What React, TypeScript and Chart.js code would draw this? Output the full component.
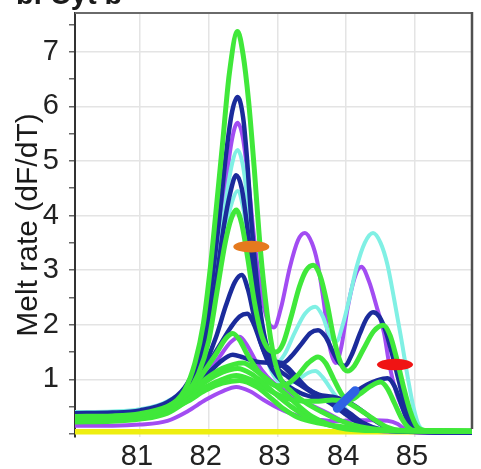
import { useEffect, useRef } from 'react';
import { Chart, registerables } from 'chart.js';

Chart.register(...registerables);

type Pt = [number, number];

// Axis ranges (temperature in °C, melt rate in dF/dT)
const TEMP_MIN = 80.055;
const TEMP_MAX = 85.83;
const RATE_MIN = -0.057;
const RATE_MAX = 7.71;

const PANEL_TITLE = 'b. Cyt b';
const Y_TITLE = 'Melt rate (dF/dT)';

const GREEN = '#40e83a';
const NAVY = '#1b2b9b';
const PURPLE = '#a24cf2';
const CYAN = '#80f0e4';
const YELLOW = '#eeee10';
const BLUE = '#2f62e4';

// No-template control
const NTC: Pt[] = [[80.055, 0.04], [85.83, 0.04]];

// Purple samples
const P_LOW: Pt[] = [[80.055,0.15],[80.6,0.15],[81.0,0.17],[81.4,0.24],[81.7,0.42],[81.95,0.62],[82.2,0.78],[82.4,0.86],[82.6,0.78],[82.8,0.62],[83.0,0.48],[83.2,0.37],[83.4,0.3],[83.6,0.26],[83.85,0.23],[84.1,0.25],[84.4,0.25],[84.6,0.24],[84.75,0.18],[84.87,0.07],[85.0,0.03],[85.83,0.02]];
const P_MID: Pt[] = [[80.055,0.25],[80.6,0.26],[81.0,0.29],[81.4,0.4],[81.7,0.7],[81.95,1.05],[82.15,1.4],[82.32,1.68],[82.45,1.78],[82.57,1.6],[82.7,1.3],[82.85,1.05],[83.0,0.88],[83.2,0.72],[83.45,0.55],[83.7,0.4],[84.0,0.2],[84.3,0.08],[84.7,0.04],[85.83,0.03]];
const P_HIGH: Pt[] = [[80.055,0.3],[80.6,0.31],[81.0,0.35],[81.4,0.5],[81.7,0.85],[81.85,1.25],[82.0,2.0],[82.12,3.2],[82.24,4.5],[82.34,5.4],[82.42,5.7],[82.5,5.4],[82.58,4.6],[82.66,3.6],[82.75,2.7],[82.85,2.1],[82.95,1.95],[83.05,2.3],[83.18,3.05],[83.3,3.55],[83.4,3.68],[83.5,3.5],[83.58,3.15],[83.67,2.45],[83.76,1.6],[83.85,1.3],[83.93,1.6],[84.02,2.3],[84.12,2.85],[84.22,3.06],[84.33,2.8],[84.45,2.3],[84.55,1.85],[84.63,1.25],[84.73,0.75],[84.83,0.43],[84.92,0.15],[85.0,0.05],[85.2,0.03],[85.83,0.02]];

// Cyan samples
const C_MID: Pt[] = [[80.055,0.36],[80.6,0.37],[81.0,0.41],[81.4,0.55],[81.7,0.85],[81.85,1.2],[82.0,1.85],[82.12,2.7],[82.24,3.7],[82.34,4.25],[82.42,4.45],[82.5,4.15],[82.58,3.5],[82.67,2.6],[82.76,1.85],[82.88,1.25],[83.0,0.98],[83.15,0.92],[83.3,1.0],[83.45,1.12],[83.55,1.15],[83.65,1.05],[83.8,0.78],[83.95,0.52],[84.1,0.32],[84.3,0.16],[84.6,0.07],[85.83,0.04]];
const C_HIGH: Pt[] = [[80.055,0.4],[80.6,0.41],[81.0,0.45],[81.4,0.6],[81.7,0.9],[81.85,1.3],[82.0,2.0],[82.12,3.0],[82.24,4.2],[82.34,4.95],[82.42,5.2],[82.5,4.9],[82.58,4.1],[82.66,3.1],[82.75,2.2],[82.86,1.55],[82.98,1.3],[83.1,1.45],[83.25,1.85],[83.4,2.2],[83.55,2.33],[83.66,2.15],[83.76,1.8],[83.86,1.7],[83.95,2.0],[84.05,2.5],[84.15,3.05],[84.27,3.5],[84.39,3.68],[84.5,3.5],[84.6,3.1],[84.7,2.45],[84.8,1.75],[84.9,1.0],[84.98,0.48],[85.06,0.15],[85.2,0.05],[85.83,0.03]];

// Navy samples
const N_A: Pt[] = [[80.055,0.34],[80.6,0.35],[81.0,0.39],[81.4,0.5],[81.7,0.75],[81.95,1.05],[82.15,1.3],[82.35,1.45],[82.5,1.4],[82.7,1.32],[82.9,1.3],[83.05,1.26],[83.2,1.1],[83.4,0.86],[83.6,0.72],[83.8,0.68],[84.0,0.6],[84.2,0.45],[84.4,0.26],[84.6,0.11],[84.8,0.05],[85.83,0.03]];
const N_B: Pt[] = [[80.055,0.36],[80.6,0.37],[81.0,0.41],[81.4,0.55],[81.7,0.82],[81.95,1.2],[82.15,1.6],[82.32,1.95],[82.45,2.15],[82.56,2.2],[82.66,2.0],[82.76,1.65],[82.87,1.3],[83.0,1.05],[83.15,0.88],[83.35,0.74],[83.55,0.66],[83.75,0.6],[83.9,0.58],[84.02,0.64],[84.15,0.78],[84.3,0.9],[84.45,0.98],[84.6,1.02],[84.7,0.88],[84.8,0.55],[84.9,0.22],[85.0,0.07],[85.3,0.04],[85.83,0.03]];
const N_C: Pt[] = [[80.055,0.33],[80.6,0.34],[81.0,0.38],[81.4,0.52],[81.7,0.8],[81.9,1.15],[82.1,1.75],[82.25,2.35],[82.38,2.78],[82.48,2.91],[82.57,2.65],[82.66,2.15],[82.75,1.7],[82.85,1.4],[82.97,1.25],[83.1,1.25],[83.25,1.08],[83.45,0.82],[83.65,0.68],[83.85,0.55],[84.05,0.38],[84.25,0.2],[84.5,0.08],[84.9,0.04],[85.83,0.03]];
const N_D: Pt[] = [[80.055,0.35],[80.6,0.36],[81.0,0.4],[81.4,0.55],[81.7,0.85],[81.85,1.2],[82.0,1.9],[82.12,2.9],[82.22,3.8],[82.32,4.45],[82.4,4.74],[82.48,4.5],[82.56,3.8],[82.65,2.9],[82.74,2.1],[82.84,1.6],[82.95,1.35],[83.08,1.3],[83.2,1.42],[83.35,1.65],[83.48,1.85],[83.59,1.9],[83.7,1.78],[83.8,1.52],[83.9,1.3],[83.98,1.25],[84.08,1.45],[84.2,1.84],[84.3,2.12],[84.39,2.23],[84.48,2.15],[84.57,1.9],[84.66,1.5],[84.76,1.0],[84.86,0.5],[84.95,0.2],[85.05,0.06],[85.3,0.03],[85.83,0.03]];
const N_E: Pt[] = [[80.055,0.38],[80.6,0.39],[81.0,0.43],[81.4,0.58],[81.65,0.85],[81.8,1.2],[81.95,1.8],[82.05,2.8],[82.15,3.9],[82.25,5.1],[82.34,5.9],[82.42,6.17],[82.5,5.8],[82.56,5.0],[82.62,3.9],[82.7,2.8],[82.78,2.0],[82.88,1.45],[83.0,1.2],[83.15,1.05],[83.35,0.88],[83.55,0.72],[83.75,0.58],[83.95,0.4],[84.15,0.22],[84.4,0.1],[84.8,0.05],[85.83,0.03]];

// Green samples
const G_A: Pt[] = [[80.055,0.28],[80.6,0.29],[81.0,0.32],[81.4,0.43],[81.7,0.6],[81.95,0.8],[82.2,0.93],[82.45,0.98],[82.7,0.86],[82.9,0.66],[83.1,0.45],[83.3,0.3],[83.6,0.2],[84.0,0.12],[84.5,0.06],[85.83,0.05]];
const G_B: Pt[] = [[80.055,0.22],[80.6,0.23],[81.0,0.27],[81.4,0.38],[81.7,0.62],[81.95,0.85],[82.2,1.0],[82.4,1.07],[82.6,1.0],[82.8,0.86],[83.0,0.72],[83.2,0.63],[83.4,0.6],[83.6,0.6],[83.8,0.62],[84.0,0.58],[84.2,0.44],[84.4,0.27],[84.6,0.12],[84.8,0.06],[85.83,0.05]];
const G_C: Pt[] = [[80.055,0.26],[80.6,0.27],[81.0,0.3],[81.4,0.44],[81.7,0.68],[81.95,0.95],[82.2,1.13],[82.42,1.2],[82.62,1.1],[82.82,0.9],[83.0,0.7],[83.2,0.5],[83.45,0.3],[83.7,0.18],[84.1,0.09],[84.6,0.06],[85.83,0.05]];
const G_D: Pt[] = [[80.055,0.32],[80.6,0.33],[81.0,0.37],[81.4,0.5],[81.7,0.74],[81.95,1.0],[82.2,1.2],[82.5,1.3],[82.7,1.15],[82.9,0.95],[83.1,0.75],[83.3,0.52],[83.5,0.32],[83.75,0.17],[84.0,0.09],[84.5,0.06],[85.83,0.05]];
const G_E: Pt[] = [[80.055,0.24],[80.6,0.25],[81.0,0.29],[81.4,0.42],[81.7,0.75],[81.9,1.08],[82.1,1.45],[82.25,1.75],[82.35,1.84],[82.45,1.72],[82.55,1.48],[82.7,1.18],[82.85,0.97],[83.0,0.88],[83.15,0.92],[83.3,1.08],[83.45,1.3],[83.59,1.41],[83.7,1.3],[83.82,1.0],[83.95,0.7],[84.05,0.62],[84.2,0.73],[84.35,0.87],[84.5,0.95],[84.6,0.83],[84.7,0.57],[84.8,0.3],[84.9,0.12],[85.0,0.06],[85.83,0.05]];
const G_F: Pt[] = [[80.055,0.27],[80.6,0.28],[81.0,0.32],[81.4,0.46],[81.7,0.78],[81.85,1.1],[82.0,1.7],[82.12,2.6],[82.24,3.5],[82.33,3.95],[82.4,4.1],[82.48,3.85],[82.57,3.2],[82.66,2.45],[82.76,1.85],[82.87,1.55],[82.98,1.5],[83.08,1.65],[83.2,2.15],[83.32,2.7],[83.42,3.0],[83.52,3.09],[83.62,2.9],[83.72,2.4],[83.82,1.75],[83.92,1.3],[84.02,1.15],[84.12,1.25],[84.25,1.55],[84.4,1.88],[84.54,1.99],[84.64,1.8],[84.73,1.4],[84.83,0.88],[84.93,0.42],[85.03,0.13],[85.15,0.06],[85.83,0.05]];
const G_G: Pt[] = [[80.055,0.3],[80.6,0.31],[81.0,0.35],[81.4,0.5],[81.65,0.8],[81.8,1.3],[81.92,2.0],[82.02,3.0],[82.1,4.0],[82.2,5.3],[82.3,6.6],[82.42,7.37],[82.5,6.95],[82.58,6.1],[82.66,4.9],[82.75,3.4],[82.85,2.2],[82.95,1.4],[83.05,1.0],[83.2,0.78],[83.4,0.58],[83.65,0.4],[83.9,0.25],[84.2,0.13],[84.6,0.07],[85.0,0.06],[85.83,0.05]];

// Short highlighted segment near 84 °C
const BLUE_SEGMENT: Pt[] = [[83.87, 0.47], [84.13, 0.79]];

// Peak markers
const MARK_TEMP = [82.62, 84.71];
const MARK_RATE = [3.43, 1.27];
const MARK_COLOR = ['#e57a1e', '#f01414'];

// Drawing order: first entry at the bottom
const SERIES: { pts: Pt[]; color: string; width: number }[] = [
  { pts: NTC, color: YELLOW, width: 5.5 },
  { pts: P_LOW, color: PURPLE, width: 4 },
  { pts: P_MID, color: PURPLE, width: 4 },
  { pts: P_HIGH, color: PURPLE, width: 4 },
  { pts: C_MID, color: CYAN, width: 4 },
  { pts: C_HIGH, color: CYAN, width: 4 },
  { pts: N_A, color: NAVY, width: 4.5 },
  { pts: N_B, color: NAVY, width: 4.5 },
  { pts: N_C, color: NAVY, width: 4.5 },
  { pts: N_D, color: NAVY, width: 4.5 },
  { pts: N_E, color: NAVY, width: 4.5 },
  { pts: G_A, color: GREEN, width: 5 },
  { pts: G_B, color: GREEN, width: 5 },
  { pts: G_C, color: GREEN, width: 5 },
  { pts: G_D, color: GREEN, width: 5 },
  { pts: G_E, color: GREEN, width: 5 },
  { pts: G_F, color: GREEN, width: 5 },
  { pts: G_G, color: GREEN, width: 5 },
  { pts: BLUE_SEGMENT, color: BLUE, width: 9 },
];

const FONT = "'Liberation Sans', Arial, sans-serif";

const decorations = {
  id: 'decorations',
  afterDatasetsDraw(chart: any) {
    const { ctx, scales } = chart;
    const xs = scales.x;
    const ys = scales.y;
    ctx.save();
    for (let i = 0; i < MARK_TEMP.length; i++) {
      const cx = xs.getPixelForValue(MARK_TEMP[i]);
      const cy = ys.getPixelForValue(MARK_RATE[i]);
      ctx.fillStyle = MARK_COLOR[i];
      ctx.beginPath();
      ctx.ellipse(cx, cy, 18, 5.8, 0, 0, Math.PI * 2);
      ctx.fill();
    }
    ctx.restore();
  },
  afterDraw(chart: any) {
    const { ctx, chartArea } = chart;
    ctx.save();
    ctx.setTransform(1, 0, 0, 1, 0, 0);
    // top and right frame
    ctx.strokeStyle = '#6a6a6a';
    ctx.lineWidth = 2;
    ctx.beginPath();
    ctx.moveTo(chartArea.left, chartArea.top);
    ctx.lineTo(chartArea.right, chartArea.top);
    ctx.stroke();
    ctx.strokeStyle = '#505050';
    ctx.lineWidth = 2.5;
    ctx.beginPath();
    ctx.moveTo(chartArea.right, chartArea.top - 1);
    ctx.lineTo(chartArea.right, chartArea.bottom - 8);
    ctx.stroke();

    ctx.fillStyle = '#1a1a1a';
    // panel title, mostly above the top edge
    ctx.font = `bold 29px ${FONT}`;
    ctx.textAlign = 'left';
    ctx.textBaseline = 'alphabetic';
    ctx.fillText(PANEL_TITLE, 16, 4);

    // y-axis title
    ctx.font = `30px ${FONT}`;
    ctx.translate(37, (chartArea.top + chartArea.bottom) / 2);
    ctx.rotate(-Math.PI / 2);
    ctx.textAlign = 'center';
    ctx.fillText(Y_TITLE, 0, 0);
    ctx.restore();
  },
};

export default function App() {
  const canvasRef = useRef<HTMLCanvasElement | null>(null);

  useEffect(() => {
    const canvas = canvasRef.current;
    if (!canvas) return;
    const datasets = SERIES.map((s, i) => ({
      data: s.pts.map(([x, y]) => ({ x, y })),
      borderColor: s.color,
      backgroundColor: s.color,
      borderWidth: s.width,
      pointRadius: 0,
      fill: false,
      cubicInterpolationMode: 'monotone' as const,
      borderCapStyle: 'round' as const,
      borderJoinStyle: 'round' as const,
      order: SERIES.length - i,
    }));

    const chart = new Chart(canvas, {
      type: 'line',
      data: { datasets },
      plugins: [decorations],
      options: {
        animation: false,
        responsive: false,
        devicePixelRatio: 1,
        layout: { padding: { left: 0, top: 13, right: 9, bottom: 0 } },
        plugins: { legend: { display: false }, tooltip: { enabled: false } },
        scales: {
          x: {
            type: 'linear',
            min: TEMP_MIN,
            max: TEMP_MAX,
            afterFit(scale: any) {
              scale.height = 32;
              scale.paddingLeft = 0;
              scale.paddingRight = 0;
            },
            border: { display: false },
            grid: {
              drawTicks: false,
              color: (c: any) =>
                c.tick && Number.isInteger(c.tick.value) ? '#e4e4e4' : 'rgba(0,0,0,0)',
              lineWidth: 1.5,
            },
            ticks: {
              stepSize: 0.5,
              includeBounds: false,
              autoSkip: false,
              maxRotation: 0,
              padding: 3,
              labelOffset: -3,
              color: '#222',
              font: { family: FONT, size: 29 },
              callback: (v: any) => (Number.isInteger(v) ? String(v) : ''),
            },
          },
          y: {
            type: 'linear',
            min: RATE_MIN,
            max: RATE_MAX,
            afterFit(scale: any) {
              scale.width = 75;
              scale.paddingTop = 0;
              scale.paddingBottom = 0;
            },
            border: { display: true, color: '#333', width: 2 },
            grid: {
              drawTicks: true,
              tickLength: 6,
              tickColor: '#666',
              tickWidth: 1.5,
              color: (c: any) =>
                c.tick && Number.isInteger(c.tick.value) && c.tick.value > 0
                  ? '#e4e4e4'
                  : 'rgba(0,0,0,0)',
              lineWidth: 1.5,
            },
            ticks: {
              stepSize: 0.5,
              includeBounds: false,
              autoSkip: false,
              padding: 10,
              color: '#222',
              font: { family: FONT, size: 29 },
              callback: (v: any) => (Number.isInteger(v) && v > 0 ? String(v) : ''),
            },
          },
        },
      },
    });
    return () => chart.destroy();
  }, []);

  return (
    <div style={{ position: 'fixed', left: 0, top: 0, width: 481, height: 469, background: '#fff' }}>
      <canvas ref={canvasRef} width={481} height={469} style={{ display: 'block' }} />
    </div>
  );
}
